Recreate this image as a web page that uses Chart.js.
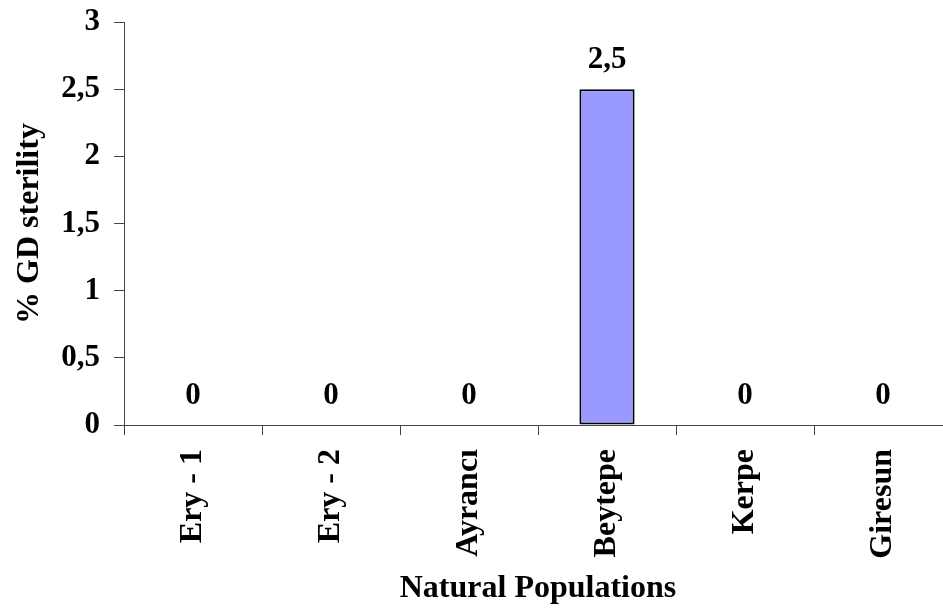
<!DOCTYPE html>
<html>
<head>
<meta charset="utf-8">
<title>% GD sterility</title>
<script src="https://cdn.jsdelivr.net/npm/chart.js@4/dist/chart.umd.min.js"></script>
<style>
    html, body { margin: 0; padding: 0; background: #fff; overflow: hidden; }
    #wrap { width: 962px; height: 611px; position: relative; }
</style>
</head>
<body>
<div id="wrap"><canvas id="chart"></canvas></div>
<script>
// Dati
const populations = ['Ery - 1', 'Ery - 2', 'Ayrancı', 'Beytepe', 'Kerpe', 'Giresun'];
const sterility = [0, 0, 0, 2.5, 0, 0];
const yMin = 0;
const yMax = 3;
const yStep = 0.5;

const xTitle = 'Natural Populations';
const yTitle = '% GD sterility';

const FONT = '"Liberation Serif", "Times New Roman", serif';
const axisColor = '#444';

// Virgola decimale
function fmt(v) {
    return String(v).replace('.', ',');
}

// Etichette valori sopra le barre
const valueLabels = {
    id: 'valueLabels',
    afterDatasetsDraw(chart) {
        const ctx = chart.ctx;
        const meta = chart.getDatasetMeta(0);
        ctx.save();
        ctx.font = 'bold 31px ' + FONT;
        ctx.fillStyle = '#000';
        ctx.textAlign = 'center';
        ctx.textBaseline = 'alphabetic';
        meta.data.forEach((bar, i) => {
            ctx.fillText(fmt(sterility[i]), bar.x, bar.y - 21);
        });
        ctx.restore();
    }
};

const ctx = document.getElementById('chart').getContext('2d');
new Chart(ctx, {
    type: 'bar',
    data: {
        labels: populations,
        datasets: [{
            data: sterility,
            backgroundColor: '#9999ff',
            borderColor: '#000',
            borderWidth: 2,
            borderSkipped: false,
            barPercentage: 0.4,
            categoryPercentage: 1
        }]
    },
    options: {
        responsive: true,
        maintainAspectRatio: false,
        animation: false,
        layout: { padding: { top: 22, left: 0, right: 10, bottom: 0 } },
        plugins: {
            legend: { display: false },
            tooltip: { enabled: false }
        },
        scales: {
            x: {
                afterFit: s => { s.height = 186; },
                border: { display: true, color: axisColor, width: 1 },
                grid: {
                    drawOnChartArea: false,
                    drawTicks: true,
                    tickLength: 10,
                    color: axisColor,
                    offset: true
                },
                ticks: {
                    autoSkip: false,
                    minRotation: 90,
                    maxRotation: 90,
                    padding: 14,
                    color: '#000',
                    font: { family: FONT, size: 32, weight: 'bold' }
                },
                title: {
                    display: true,
                    text: xTitle,
                    color: '#000',
                    padding: { top: 0, bottom: 3 },
                    font: { family: FONT, size: 32, weight: 'bold' }
                }
            },
            y: {
                min: yMin,
                max: yMax,
                afterFit: s => {
                    s.width = 124;
                    s.paddingTop = 0;
                    s.paddingBottom = 0;
                },
                border: { display: true, color: axisColor, width: 1 },
                grid: {
                    drawOnChartArea: false,
                    drawTicks: true,
                    tickLength: 10,
                    color: axisColor
                },
                ticks: {
                    stepSize: yStep,
                    padding: 14,
                    color: '#000',
                    font: { family: FONT, size: 31, weight: 'bold' },
                    callback: v => fmt(v)
                },
                title: {
                    display: true,
                    text: yTitle,
                    color: '#000',
                    padding: { top: 11, bottom: 0 },
                    font: { family: FONT, size: 32, weight: 'bold' }
                }
            }
        }
    },
    plugins: [valueLabels]
});
</script>
</body>
</html>
